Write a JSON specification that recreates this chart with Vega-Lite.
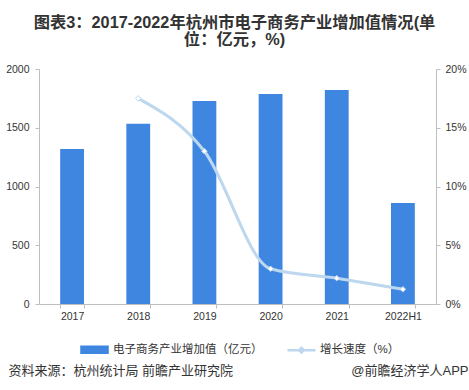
{
  "$schema": "https://vega.github.io/schema/vega-lite/v6.json",
  "width": 397,
  "height": 235,
  "autosize": {"type": "none"},
  "padding": {"left": 39, "top": 69, "right": 33, "bottom": 86},
  "background": "white",
  "title": {
    "text": ["图表3：2017-2022年杭州市电子商务产业增加值情况(单", "位：亿元，%)"],
    "fontSize": 16.3,
    "fontWeight": "bold",
    "color": "#333333",
    "anchor": "middle",
    "lineHeight": 17,
    "offset": 16,
    "dx": -3
  },
  "data": {
    "values": [
      {"year": "2017", "value": 1319, "rate": null},
      {"year": "2018", "value": 1534, "rate": 17.5},
      {"year": "2019", "value": 1728, "rate": 13.0},
      {"year": "2020", "value": 1787, "rate": 3.0},
      {"year": "2021", "value": 1821, "rate": 2.2},
      {"year": "2022H1", "value": 860, "rate": 1.25}
    ]
  },
  "layer": [
    {
      "mark": {"type": "bar"},
      "encoding": {
        "x": {
          "field": "year",
          "type": "nominal",
          "sort": null,
          "scale": {"paddingInner": 0.64, "paddingOuter": 0.32},
          "axis": {
            "labelAngle": 0,
            "tickBand": "extent",
            "tickSize": 4,
            "labelPadding": 3,
            "title": "资料来源：杭州统计局 前瞻产业研究院",
            "titleX": -31,
            "titleY": 66,
            "titleAnchor": "start",
            "titleAlign": "left",
            "titleBaseline": "middle"
          }
        },
        "y": {
          "field": "value",
          "type": "quantitative",
          "scale": {"domain": [0, 2000]},
          "axis": {
            "values": [0, 500, 1000, 1500, 2000],
            "format": "d",
            "title": null,
            "tickSize": 4,
            "labelPadding": 6
          }
        },
        "color": {
          "datum": "电子商务产业增加值（亿元）",
          "scale": {
            "domain": ["电子商务产业增加值（亿元）", "增长速度（%）"],
            "range": ["#3e86e0", "#bdd7ee"]
          },
          "legend": {
            "orient": "none",
            "legendX": 40,
            "legendY": 265,
            "direction": "horizontal",
            "title": null,
            "padding": 0,
            "labelFontSize": 11.5,
            "labelColor": "#333333",
            "symbolSize": 784,
            "columnPadding": 19,
            "labelOffset": 3,
            "encode": {
              "symbols": {
                "update": {
                  "shape": {"signal": "datum.value === '增长速度（%）' ? 'M-1,0H1M0,-0.16L0.16,0L0,0.16L-0.16,0Z' : 'M-0.93,-0.22H0.93V0.22H-0.93Z'"},
                  "fill": {"signal": "datum.value === '增长速度（%）' ? '#ffffff' : '#3e86e0'"},
                  "stroke": {"signal": "datum.value === '增长速度（%）' ? '#bdd7ee' : 'transparent'"},
                  "strokeWidth": {"value": 2.5},
                  "opacity": {"value": 1}
                }
              }
            }
          }
        }
      }
    },
    {
      "encoding": {
        "x": {"field": "year", "type": "nominal", "sort": null},
        "y": {
          "field": "rate",
          "type": "quantitative",
          "scale": {"domain": [0, 20]},
          "axis": {
            "orient": "right",
            "values": [0, 5, 10, 15, 20],
            "labelExpr": "datum.value + '%'",
            "tickSize": 4,
            "labelPadding": 5,
            "title": "@前瞻经济学人APP",
            "titleAngle": 0,
            "titleX": 32,
            "titleY": 301,
            "titleAlign": "right",
            "titleBaseline": "middle"
          }
        }
      },
      "layer": [
        {
          "mark": {"type": "line", "interpolate": "monotone", "strokeWidth": 3},
          "encoding": {"color": {"datum": "增长速度（%）"}}
        },
        {
          "mark": {"type": "point", "shape": "diamond", "filled": true, "fill": "#ffffff", "stroke": "#bdd7ee", "strokeWidth": 1, "size": 30, "opacity": 1}
        }
      ]
    }
  ],
  "resolve": {"scale": {"y": "independent"}},
  "config": {
    "font": "Liberation Sans, Noto Sans CJK SC",
    "view": {"stroke": null},
    "axis": {
      "labelFont": "Liberation Sans, Noto Sans CJK SC",
      "labelFontSize": 10.5,
      "labelColor": "#333333",
      "domainColor": "#bfbfbf",
      "tickColor": "#bfbfbf",
      "grid": false,
      "titleFont": "Liberation Sans, Noto Sans CJK SC",
      "titleFontSize": 13,
      "titleFontWeight": "normal",
      "titleColor": "#333333"
    },
    "legend": {"labelFont": "Liberation Sans, Noto Sans CJK SC"}
  }
}
